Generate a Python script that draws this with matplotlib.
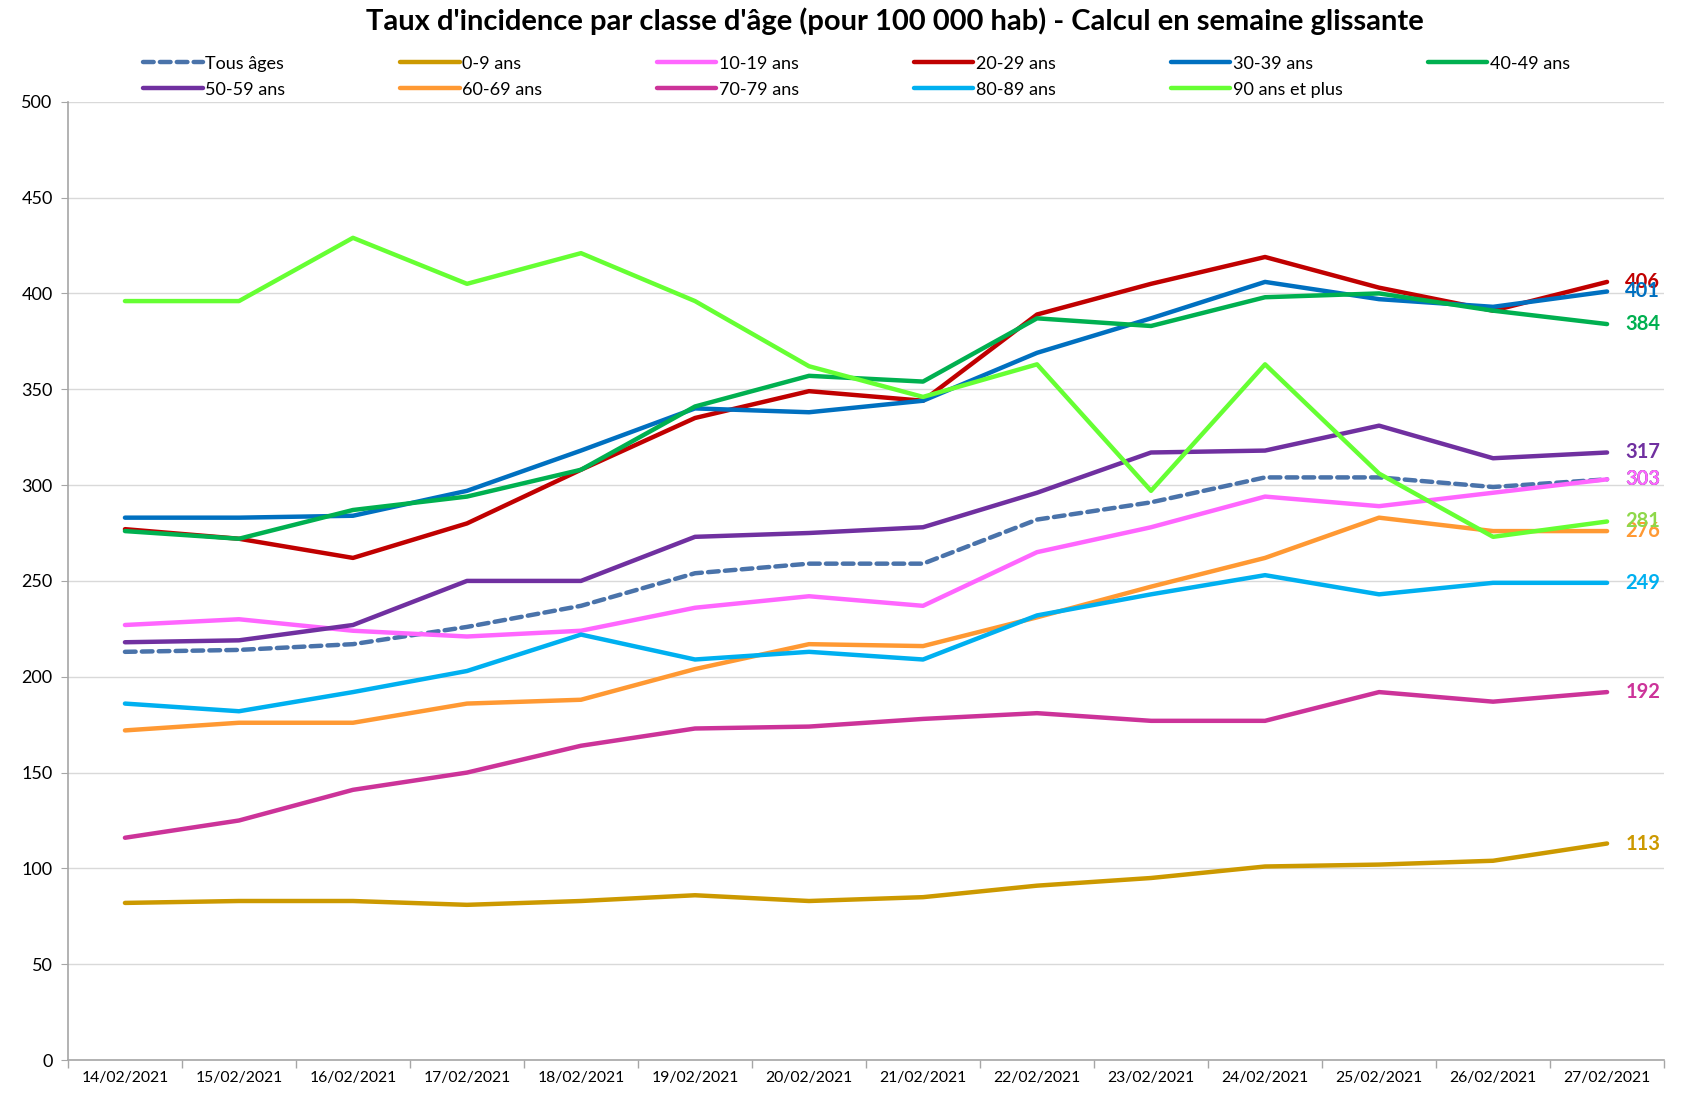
import matplotlib
matplotlib.use("Agg")
import matplotlib.pyplot as plt
from matplotlib.ticker import FixedLocator

plt.rcParams['font.family'] = ['Lato', 'DejaVu Sans']

dates = ["14/02/2021", "15/02/2021", "16/02/2021", "17/02/2021", "18/02/2021",
         "19/02/2021", "20/02/2021", "21/02/2021", "22/02/2021", "23/02/2021",
         "24/02/2021", "25/02/2021", "26/02/2021", "27/02/2021"]

tous_ages = [213, 214, 217, 226, 237, 254, 259, 259, 282, 291, 304, 304, 299, 303]
ans_0_9 = [82, 83, 83, 81, 83, 86, 83, 85, 91, 95, 101, 102, 104, 113]
ans_10_19 = [227, 230, 224, 221, 224, 236, 242, 237, 265, 278, 294, 289, 296, 303]
ans_20_29 = [277, 272, 262, 280, 308, 335, 349, 344, 389, 405, 419, 403, 391, 406]
ans_30_39 = [283, 283, 284, 297, 318, 340, 338, 344, 369, 387, 406, 397, 393, 401]
ans_40_49 = [276, 272, 287, 294, 308, 341, 357, 354, 387, 383, 398, 400, 391, 384]
ans_50_59 = [218, 219, 227, 250, 250, 273, 275, 278, 296, 317, 318, 331, 314, 317]
ans_60_69 = [172, 176, 176, 186, 188, 204, 217, 216, 231, 247, 262, 283, 276, 276]
ans_70_79 = [116, 125, 141, 150, 164, 173, 174, 178, 181, 177, 177, 192, 187, 192]
ans_80_89 = [186, 182, 192, 203, 222, 209, 213, 209, 232, 243, 253, 243, 249, 249]
ans_90_plus = [396, 396, 429, 405, 421, 396, 362, 346, 363, 297, 363, 306, 273, 281]

series = [
    ("Tous âges", tous_ages, "#4A73AA", "--", "#2F3E5C"),
    ("0-9 ans", ans_0_9, "#CC9900", "-", "#CC9900"),
    ("10-19 ans", ans_10_19, "#FF66FF", "-", "#FF66FF"),
    ("20-29 ans", ans_20_29, "#C00000", "-", "#C00000"),
    ("30-39 ans", ans_30_39, "#0070C0", "-", "#0070C0"),
    ("40-49 ans", ans_40_49, "#00B050", "-", "#00B050"),
    ("50-59 ans", ans_50_59, "#7030A0", "-", "#7030A0"),
    ("60-69 ans", ans_60_69, "#FF9933", "-", "#FF9933"),
    ("70-79 ans", ans_70_79, "#CC3399", "-", "#CC3399"),
    ("80-89 ans", ans_80_89, "#00B0F0", "-", "#00B0F0"),
    ("90 ans et plus", ans_90_plus, "#66FF33", "-", "#8ED84A"),
]

fig = plt.figure(figsize=(16.86, 10.94), dpi=100)
ax = fig.add_axes([0.0403, 0.031, 0.9467, 0.876])

x = list(range(len(dates)))
handles = {}
for name, vals, col, ls, lab_col in series:
    if ls == "--":
        h, = ax.plot(x, vals, color=col, lw=3.2, ls=(0, (2.4, 1.4)), label=name,
                     solid_capstyle="round", dash_capstyle="round", zorder=3)
    else:
        h, = ax.plot(x, vals, color=col, lw=3.2, label=name,
                     solid_capstyle="round", zorder=3)
    handles[name] = h
    ax.text(13.16, vals[-1], str(vals[-1]), color=lab_col, fontsize=14.5,
            fontweight="bold", va="center", ha="left", zorder=4)

ax.set_xlim(-0.5, 13.5)
ax.set_ylim(0, 500)
ax.set_yticks(range(0, 501, 50))
ax.set_xticks(x)
ax.set_xticklabels(dates, fontsize=11.3)
ax.xaxis.set_minor_locator(FixedLocator([i - 0.5 for i in range(len(dates) + 1)]))
ax.tick_params(axis="x", which="major", length=0, pad=8)
ax.tick_params(axis="x", which="minor", length=6, color="#A6A6A6", width=1)
ax.tick_params(axis="y", length=5, color="#A6A6A6", labelsize=13, pad=6)
ax.grid(axis="y", color="#D9D9D9", lw=1)
ax.set_axisbelow(True)
for s in ["top", "right"]:
    ax.spines[s].set_visible(False)
for s in ["left", "bottom"]:
    ax.spines[s].set_color("#A6A6A6")
    ax.spines[s].set_linewidth(1.2)

# legend: 6 columns, 2 rows, evenly spaced
columns = [["Tous âges", "50-59 ans"], ["0-9 ans", "60-69 ans"],
           ["10-19 ans", "70-79 ans"], ["20-29 ans", "80-89 ans"],
           ["30-39 ans", "90 ans et plus"], ["40-49 ans"]]
for i, names in enumerate(columns):
    fig.legend([handles[n] for n in names], names, loc="upper left",
               bbox_to_anchor=(0.0848 + i * 0.1524, 0.949), frameon=False,
               fontsize=13, handlelength=3.3, handletextpad=0.15,
               labelspacing=0.55, borderaxespad=0, borderpad=0)

fig.suptitle("Taux d'incidence par classe d'âge (pour 100 000 hab) - Calcul en semaine glissante",
             fontsize=21, fontweight="bold", y=0.993, x=0.531)

fig.savefig("out.png", dpi=100)
